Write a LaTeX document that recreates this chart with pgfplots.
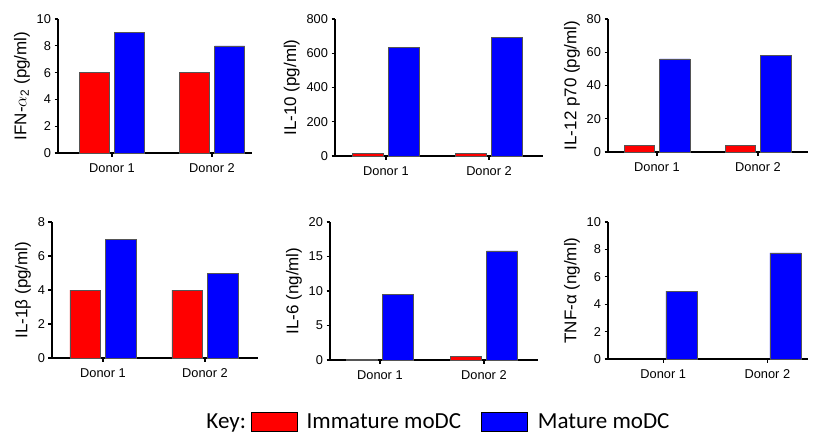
\documentclass[border=0pt]{standalone}
\usepackage{pgfplots}
\pgfplotsset{compat=1.18}
\usepackage{fontspec}
\setmainfont{Liberation Sans}
\newfontfamily\keyfont{Carlito}
\definecolor{barred}{HTML}{FF0000}
\definecolor{barblue}{HTML}{0000FF}
\definecolor{bardraw}{HTML}{555555}
\pgfplotsset{
  panel/.style={
    scale only axis,
    anchor=south west,
    axis x line*=bottom,
    axis y line*=left,
    axis line style={line width=1.3pt, black},
    tick align=outside,
    major tick length=3.5pt,
    tick style={line width=1.2pt, black},
    ymin=0,
    xtick={0,1},
    xticklabels={Donor 1, Donor 2},
    ticklabel style={font=\fontsize{12.8}{14}\selectfont},
    /pgf/number format/assume math mode=true,
    ylabel style={font=\fontsize{17}{20}\selectfont},
    xticklabel style={yshift=-3.5pt},
    clip=false,
  },
  redbar/.style={ybar, bar width=0.30, bar shift=-0.175, fill=barred, draw=bardraw, line width=0.6pt},
  bluebar/.style={ybar, bar width=0.30, bar shift=0.175, fill=barblue, draw=bardraw, line width=0.6pt},
}
\begin{document}
\begin{tikzpicture}
\path[use as bounding box] (0pt,0pt) rectangle (834pt,-444pt);
% Panel 1
\begin{axis}[panel, at={(58pt,-153pt)}, width=194pt, height=134pt,
  xmin=-0.54, xmax=1.40, ymax=10, ytick={0,2,4,6,8,10},
  ylabel={IFN-$\alpha$\textsubscript{2} (pg/ml)}]
\addplot[redbar] coordinates {(0,6) (1,6)};
\addplot[bluebar] coordinates {(0,9) (1,8)};
\end{axis}
% Panel 2
\begin{axis}[panel, at={(335pt,-156pt)}, width=208pt, height=137pt,
  xmin=-0.495, xmax=1.524, ymax=800, ytick={0,200,400,600,800},
  ylabel={IL-10 (pg/ml)}]
\addplot[redbar] coordinates {(0,14) (1,17)};
\addplot[bluebar] coordinates {(0,632) (1,691)};
\end{axis}
% Panel 3
\begin{axis}[panel, at={(608pt,-152pt)}, width=200pt, height=133pt,
  xmin=-0.485, xmax=1.495, ymax=80, ytick={0,20,40,60,80},
  ylabel={IL-12 p70 (pg/ml)}]
\addplot[redbar] coordinates {(0,4) (1,4)};
\addplot[bluebar] coordinates {(0,56) (1,58)};
\end{axis}
% Panel 4
\begin{axis}[panel, at={(52pt,-358pt)}, width=206pt, height=136pt,
  xmin=-0.50, xmax=1.52, ymax=8, ytick={0,2,4,6,8},
  ylabel={IL-1β (pg/ml)}]
\addplot[redbar] coordinates {(0,4) (1,4)};
\addplot[bluebar] coordinates {(0,7) (1,5)};
\end{axis}
% Panel 5
\begin{axis}[panel, at={(330pt,-360pt)}, width=208pt, height=138pt,
  xmin=-0.48, xmax=1.52, ymax=20, ytick={0,5,10,15,20},
  ylabel={IL-6 (ng/ml)},
  legend columns=-1,
  legend style={at={(0.519,-0.449)}, anchor=center, draw=none, fill=none,
    font=\keyfont\fontsize{23}{26}\selectfont,
    nodes={inner xsep=1pt},
    /tikz/column 1/.style={column sep=0pt},
    /tikz/column 2/.style={column sep=4pt},
    /tikz/column 3/.style={column sep=8pt},
    /tikz/column 4/.style={column sep=19pt},
    /tikz/column 5/.style={column sep=9pt},
  },
  legend image code/.code={\draw[#1] (0pt,-9.5pt) rectangle (46pt,9.5pt);}]
\addplot[redbar, forget plot] coordinates {(0,0.1) (1,0.5)};
\addplot[bluebar, forget plot] coordinates {(0,9.5) (1,15.8)};
\addlegendimage{empty legend}
\addlegendentry{Key:}
\addlegendimage{fill=barred, draw=black, line width=0.8pt}
\addlegendentry{Immature moDC}
\addlegendimage{fill=barblue, draw=black, line width=0.8pt}
\addlegendentry{Mature moDC}
\end{axis}
% Panel 6
\begin{axis}[panel, at={(608pt,-359pt)}, width=200pt, height=137pt,
  xmin=-0.53, xmax=1.39, ymax=10, ytick={0,2,4,6,8,10},
  ylabel={TNF-α (ng/ml)}]
\addplot[bluebar] coordinates {(0,4.96) (1,7.74)};
\end{axis}
\end{tikzpicture}
\end{document}
